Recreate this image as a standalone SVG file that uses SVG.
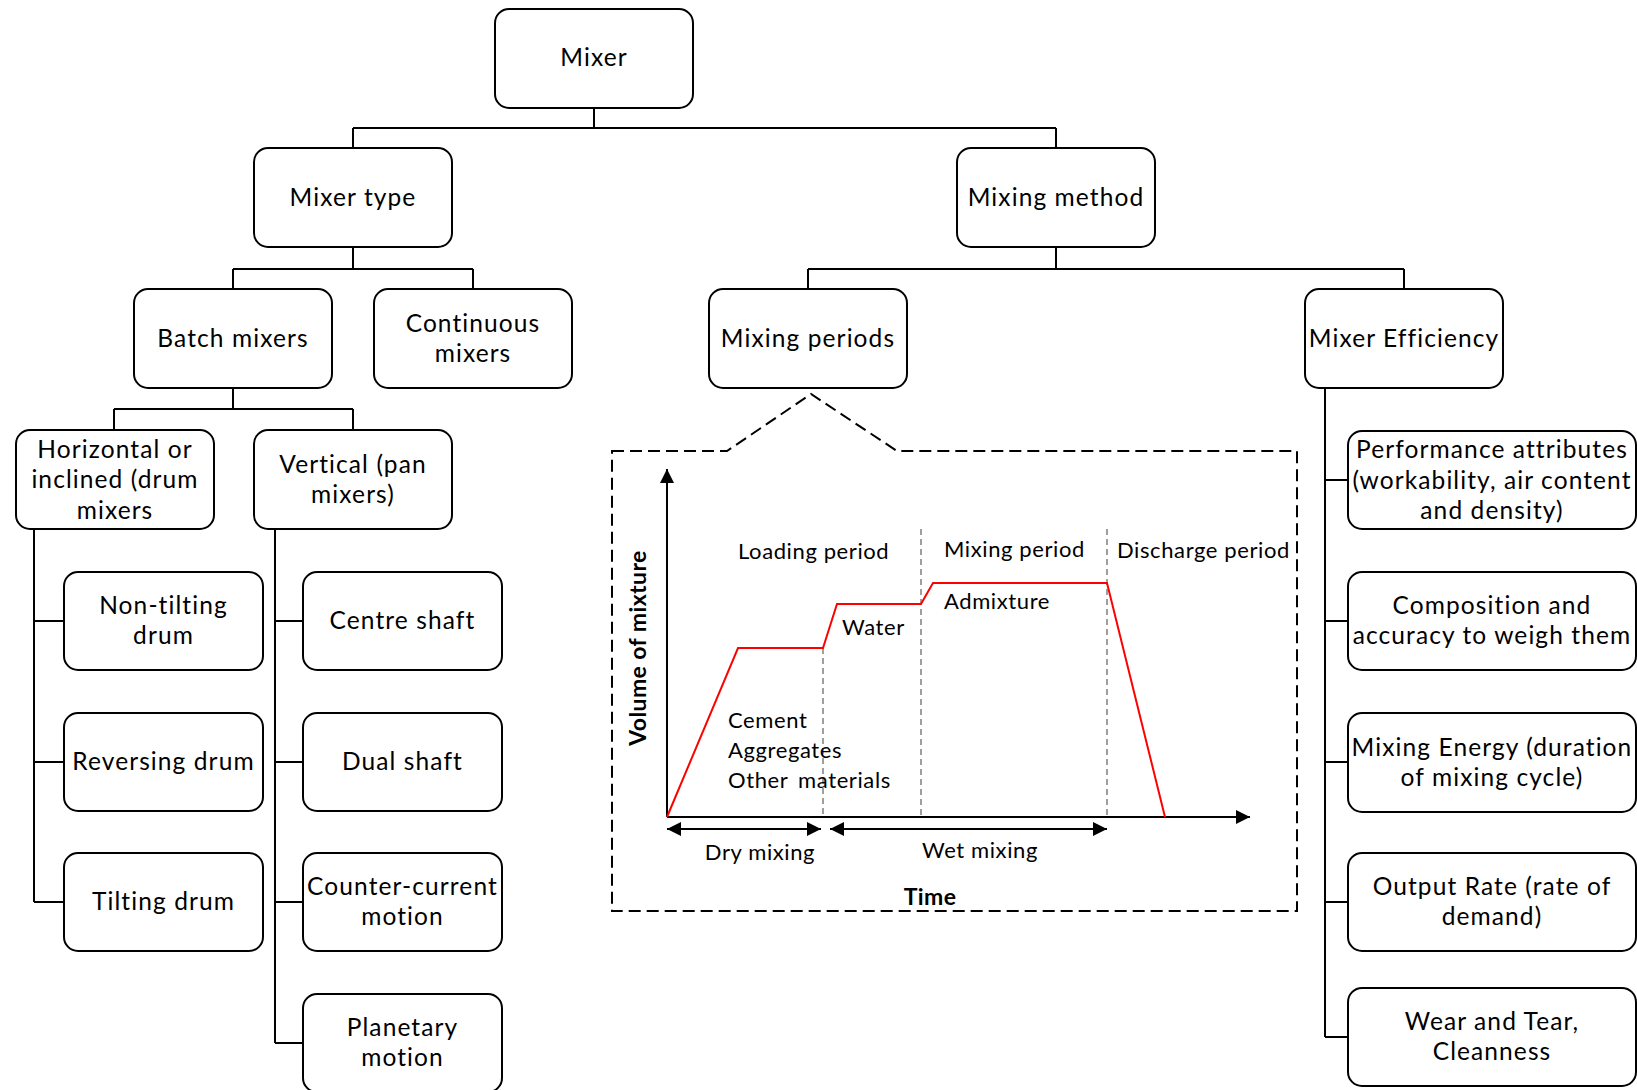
<svg xmlns="http://www.w3.org/2000/svg" width="1637" height="1090" viewBox="0 0 1637 1090">
  <style>
    .box { fill: #ffffff; stroke: #000000; stroke-width: 2; }
    .lbl { font-family: Lato, "Liberation Sans", sans-serif; font-size: 24.5px; letter-spacing: 1.1px; fill: #000000; text-anchor: middle; }
    .wire { fill: none; stroke: #000000; stroke-width: 2; }
    .chart { font-family: Lato, "Liberation Sans", sans-serif; font-size: 22px; fill: #000000; letter-spacing: 0.6px; }
    .bold { font-family: Lato, "Liberation Sans", sans-serif; font-size: 23px; font-weight: bold; letter-spacing: 0.4px; fill: #000000; text-anchor: middle; }
    .guide { fill: none; stroke: #888888; stroke-width: 1.6; stroke-dasharray: 6 4; }
    .frame { fill: none; stroke: #000000; stroke-width: 2; stroke-dasharray: 12 6; }
    .curve { fill: none; stroke: #ff0000; stroke-width: 2; }
    .axis { fill: none; stroke: #000000; stroke-width: 2; }
  </style>
  <defs>
    <marker id="tip" viewBox="0 0 10 10" refX="10" refY="5" markerWidth="15" markerHeight="14" markerUnits="userSpaceOnUse" orient="auto-start-reverse">
      <path d="M0,0 L10,5 L0,10 Z" fill="#000000"/>
    </marker>
  </defs>

  <rect width="1637" height="1090" fill="#ffffff"/>

  <!-- tree connectors -->
  <g id="connectors">
    <path class="wire" d="M594,108 V128 M353,128 H1056 M353,128 V148 M1056,128 V148"/>
    <path class="wire" d="M353,247 V269 M233,269 H473 M233,269 V289 M473,269 V289"/>
    <path class="wire" d="M1056,247 V269 M808,269 H1404 M808,269 V289 M1404,269 V289"/>
    <path class="wire" d="M114,409 H353 M114,409 V430 M353,409 V430"/>
    <path class="wire" stroke-width="3.5" d="M233,388 V409"/>
    <path class="wire" d="M34,529 V902 M34,621 H64 M34,762 H64 M34,902 H64"/>
    <path class="wire" d="M275,529 V1043 M275,621 H303 M275,762 H303 M275,902 H303 M275,1043 H303"/>
    <path class="wire" stroke-width="2.5" d="M1325,388 V1037 M1325,480 H1348 M1325,621 H1348 M1325,762 H1348 M1325,902 H1348 M1325,1037 H1348"/>
  </g>

  <!-- top levels -->
  <g id="node-mixer">
    <rect class="box" x="495" y="9" width="198" height="99" rx="14"/>
    <text class="lbl" x="594" y="66">Mixer</text>
  </g>
  <g id="node-mixer-type">
    <rect class="box" x="254" y="148" width="198" height="99" rx="14"/>
    <text class="lbl" x="353" y="205.5">Mixer type</text>
  </g>
  <g id="node-mixing-method">
    <rect class="box" x="957" y="148" width="198" height="99" rx="14"/>
    <text class="lbl" x="1056" y="205.5">Mixing method</text>
  </g>
  <g id="node-batch">
    <rect class="box" x="134" y="289" width="198" height="99" rx="14"/>
    <text class="lbl" x="233" y="346.5">Batch mixers</text>
  </g>
  <g id="node-continuous">
    <rect class="box" x="374" y="289" width="198" height="99" rx="14"/>
    <text class="lbl" x="473" y="331.5">Continuous</text>
    <text class="lbl" x="473" y="361.5">mixers</text>
  </g>
  <g id="node-periods">
    <rect class="box" x="709" y="289" width="198" height="99" rx="14"/>
    <text class="lbl" x="808" y="346.5">Mixing periods</text>
  </g>
  <g id="node-efficiency">
    <rect class="box" x="1305" y="289" width="198" height="99" rx="14"/>
    <text class="lbl" x="1404" y="346.5">Mixer Efficiency</text>
  </g>

  <!-- batch mixer kinds -->
  <g id="node-drum">
    <rect class="box" x="16" y="430" width="198" height="99" rx="14"/>
    <text class="lbl" x="115" y="457.5">Horizontal or</text>
    <text class="lbl" x="115" y="488">inclined (drum</text>
    <text class="lbl" x="115" y="518.5">mixers</text>
  </g>
  <g id="node-pan">
    <rect class="box" x="254" y="430" width="198" height="99" rx="14"/>
    <text class="lbl" x="353" y="472.5">Vertical (pan</text>
    <text class="lbl" x="353" y="502.5">mixers)</text>
  </g>

  <!-- drum mixers -->
  <g id="node-non-tilting">
    <rect class="box" x="64" y="572" width="199" height="98" rx="14"/>
    <text class="lbl" x="163.5" y="614">Non-tilting</text>
    <text class="lbl" x="163.5" y="644">drum</text>
  </g>
  <g id="node-reversing">
    <rect class="box" x="64" y="713" width="199" height="98" rx="14"/>
    <text class="lbl" x="163.5" y="770">Reversing drum</text>
  </g>
  <g id="node-tilting">
    <rect class="box" x="64" y="853" width="199" height="98" rx="14"/>
    <text class="lbl" x="163.5" y="910">Tilting drum</text>
  </g>

  <!-- pan mixers -->
  <g id="node-centre-shaft">
    <rect class="box" x="303" y="572" width="199" height="98" rx="14"/>
    <text class="lbl" x="402.5" y="629">Centre shaft</text>
  </g>
  <g id="node-dual-shaft">
    <rect class="box" x="303" y="713" width="199" height="98" rx="14"/>
    <text class="lbl" x="402.5" y="770">Dual shaft</text>
  </g>
  <g id="node-counter-current">
    <rect class="box" x="303" y="853" width="199" height="98" rx="14"/>
    <text class="lbl" x="402.5" y="895">Counter-current</text>
    <text class="lbl" x="402.5" y="925">motion</text>
  </g>
  <g id="node-planetary">
    <rect class="box" x="303" y="994" width="199" height="98" rx="14"/>
    <text class="lbl" x="402.5" y="1036">Planetary</text>
    <text class="lbl" x="402.5" y="1066">motion</text>
  </g>

  <!-- efficiency factors -->
  <g id="node-performance">
    <rect class="box" x="1348" y="431" width="288" height="98" rx="14"/>
    <text class="lbl" x="1492" y="458">Performance attributes</text>
    <text class="lbl" x="1492" y="488.5">(workability, air content</text>
    <text class="lbl" x="1492" y="519">and density)</text>
  </g>
  <g id="node-composition">
    <rect class="box" x="1348" y="572" width="288" height="98" rx="14"/>
    <text class="lbl" x="1492" y="614">Composition and</text>
    <text class="lbl" x="1492" y="644">accuracy to weigh them</text>
  </g>
  <g id="node-energy">
    <rect class="box" x="1348" y="713" width="288" height="99" rx="14"/>
    <text class="lbl" x="1492" y="755.5">Mixing Energy (duration</text>
    <text class="lbl" x="1492" y="785.5">of mixing cycle)</text>
  </g>
  <g id="node-output">
    <rect class="box" x="1348" y="853" width="288" height="98" rx="14"/>
    <text class="lbl" x="1492" y="895">Output Rate (rate of</text>
    <text class="lbl" x="1492" y="925">demand)</text>
  </g>
  <g id="node-wear">
    <rect class="box" x="1348" y="988" width="288" height="98" rx="14"/>
    <text class="lbl" x="1492" y="1030">Wear and Tear,</text>
    <text class="lbl" x="1492" y="1060">Cleanness</text>
  </g>

  <!-- mixing periods chart -->
  <g id="periods-chart">
    <path class="frame" d="M612,451 H727 L811,394 L897,451 H1297 V911 H612 Z"/>

    <path class="guide" d="M823,648 V817 M921,529 V817 M1107,529 V817"/>

    <line class="axis" x1="667" y1="817" x2="667" y2="469" marker-end="url(#tip)"/>
    <line class="axis" x1="667" y1="817" x2="1250" y2="817" marker-end="url(#tip)"/>

    <polyline class="curve" points="667,817 738,648 823,648 837,604 921,604 933,583 1107,583 1165,817"/>

    <line class="axis" x1="667" y1="829" x2="821" y2="829" marker-start="url(#tip)" marker-end="url(#tip)"/>
    <line class="axis" x1="830" y1="829" x2="1107" y2="829" marker-start="url(#tip)" marker-end="url(#tip)"/>

    <text class="chart" x="738" y="559">Loading period</text>
    <text class="chart" x="944" y="557">Mixing period</text>
    <text class="chart" x="1117" y="558">Discharge period</text>
    <text class="chart" x="944" y="609">Admixture</text>
    <text class="chart" x="842" y="635">Water</text>
    <text class="chart" x="728" y="728">Cement</text>
    <text class="chart" x="728" y="758">Aggregates</text>
    <text class="chart" x="728" y="788" word-spacing="4">Other materials</text>
    <text class="chart" x="760" y="860" text-anchor="middle">Dry mixing</text>
    <text class="chart" x="980" y="858" text-anchor="middle">Wet mixing</text>

    <text class="bold" x="930" y="905">Time</text>
    <text class="bold" transform="translate(646,648) rotate(-90)">Volume of mixture</text>
  </g>
</svg>
